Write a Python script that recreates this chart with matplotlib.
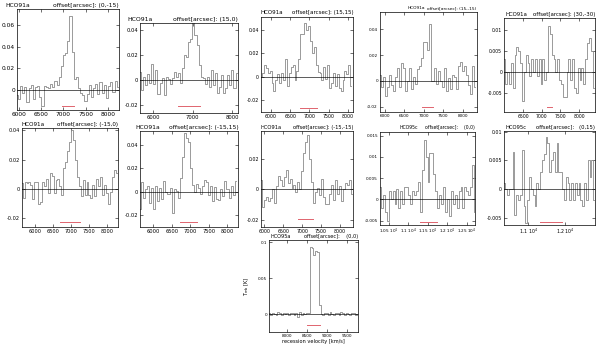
import numpy as np
import matplotlib
matplotlib.use("Agg")
import matplotlib.pyplot as plt
from matplotlib.ticker import FixedLocator, FuncFormatter

# ---------------- data ----------------
lines = ["HCO91a"] * 8 + ["HCO95c", "HCO95c", "HCO95a"]
offsets = ["(0,-15)", "(15,0)", "(15,15)", "(15,-15)", "(30,-30)",
           "(-15,0)", "(-15,15)", "(-15,-15)", "(0,0)", "(0,15)", "(0,0)"]

# first channel velocity and channel width [km/s]
v_start = [5960, 5670, 5740, 5870, 5990, 5628, 5640, 5913, 10267, 10346, 7565]
v_step = [48, 52, 50, 52, 50, 54, 55, 52, 50, 50, 45]

t1 = [-0.005, -0.008, 0.004, -0.003, 0.003, -0.011, 0.002, 0.005, -0.008, 0.003, 0.004, -0.006,
      -0.015, 0.004, 0.003, 0.002, 0.006, 0.003, 0.008, 0.005, 0.012, 0.022, 0.032, 0.034,
      0.045, 0.068, 0.035, 0.01, 0.012, 0.002, -0.003, -0.005, -0.01, -0.004, 0.005, -0.006,
      0.002, 0.006, -0.004, 0.007, -0.003, 0.005, -0.007, 0.004, 0.007, -0.002, 0.008, 0.003]
t2 = [0.007, -0.008, 0.003, -0.004, 0.005, -0.002, 0.013, -0.003, 0.008, -0.011, -0.002, 0.002,
      -0.012, 0.003, 0.001, -0.003, 0.002, 0.007, 0.003, 0.006, -0.002, 0.01, 0.02, 0.019,
      0.031, 0.033, 0.047, 0.036, 0.028, 0.012, 0.003, 0.002, -0.003, 0.003, -0.005, 0.008,
      -0.004, 0.006, -0.01, -0.005, 0.004, -0.01, -0.006, 0.004, -0.004, 0.008, -0.006, 0.006]
t3 = [0.0, 0.003, 0.01, 0.007, 0.003, 0.005, -0.005, -0.012, -0.003, 0.002, -0.005, 0.003,
      -0.003, 0.015, -0.008, 0.003, 0.008, 0.01, -0.003, 0.005, 0.015, 0.036, 0.036, 0.046,
      0.04, 0.043, 0.03, 0.02, 0.025, 0.01, 0.004, 0.003, -0.003, 0.008, -0.002, 0.01,
      -0.01, -0.005, 0.003, -0.008, 0.002, -0.01, -0.012, -0.003, 0.005, 0.002, 0.01, -0.008]
t4 = [0.005, -0.005, 0.003, -0.012, -0.005, 0.005, -0.003, -0.008, 0.003, 0.01, -0.005, 0.014,
      0.01, -0.008, 0.0, 0.01, -0.006, 0.003, -0.002, 0.009, 0.012, 0.018, 0.03, 0.03,
      0.024, 0.044, 0.0, 0.01, -0.002, 0.008, 0.0, -0.005, 0.01, -0.008, 0.002, -0.006,
      0.005, 0.003, -0.006, 0.012, 0.015, 0.008, 0.012, 0.005, -0.003, -0.01, 0.012, -0.005]
t5 = [0.003, -0.003, 0.0, -0.003, 0.002, -0.004, 0.004, 0.006, 0.005, 0.002, -0.007, 0.0,
      0.004, 0.002, -0.001, 0.003, 0.0, 0.003, -0.001, 0.003, -0.003, 0.003, -0.002, 0.0,
      0.011, 0.009, 0.004, 0.003, 0.0, 0.003, -0.002, -0.003, -0.006, -0.006, 0.0, 0.003,
      -0.002, 0.003, -0.004, -0.005, 0.001, -0.002, 0.001, -0.003, 0.003, 0.007, 0.008, 0.005,
      -0.004]
t6 = [0.004, -0.006, 0.005, 0.004, 0.005, 0.003, -0.007, 0.005, 0.005, -0.01, -0.009, 0.005,
      0.002, 0.007, -0.003, 0.011, 0.009, -0.003, 0.006, 0.007, 0.002, -0.004, 0.014, 0.018,
      0.026, 0.032, 0.04, 0.033, 0.02, 0.008, 0.002, -0.005, 0.006, -0.004, 0.005, -0.004,
      -0.006, 0.003, -0.005, 0.007, 0.002, 0.008, -0.004, 0.003, -0.003, -0.01, -0.002, 0.008,
      0.013, 0.011]
t7 = [-0.015, 0.008, -0.005, 0.002, 0.005, -0.01, 0.003, -0.015, 0.005, -0.008, 0.003, -0.006,
      0.009, 0.0, -0.002, 0.003, -0.018, 0.002, 0.001, -0.005, 0.012, 0.03, 0.05, 0.046,
      0.043, 0.02, 0.006, 0.0, 0.007, 0.003, -0.002, 0.005, 0.01, 0.008, -0.003, 0.005,
      -0.008, 0.004, -0.006, -0.007, 0.002, -0.004, 0.009, 0.002, -0.005, 0.005, -0.003, 0.009]
t8 = [0.006, -0.012, -0.007, -0.005, -0.008, -0.006, 0.0, -0.009, 0.002, 0.009, 0.006, 0.002,
      0.008, 0.013, 0.004, 0.007, 0.001, 0.003, -0.002, 0.005, 0.0, 0.012, 0.024, 0.031,
      0.036, 0.02, 0.005, -0.009, -0.002, 0.001, -0.004, 0.007, -0.005, -0.01, -0.01, -0.003,
      0.003, -0.007, 0.006, -0.003, 0.002, -0.008, 0.0, 0.004, 0.003, 0.006, -0.003]
t9 = [0.003, -0.002, 0.001, -0.003, -0.005, 0.002, 0.0, 0.002, -0.001, 0.0025, -0.002, 0.002,
      -0.001, 0.003, 0.003, 0.001, -0.001, 0.002, 0.001, 0.002, 0.004, -0.003, 0.007, 0.014,
      0.01, 0.004, 0.011, 0.011, 0.006, 0.002, -0.002, 0.001, -0.001, 0.003, -0.003, 0.0,
      -0.004, 0.002, -0.001, 0.001, -0.002, 0.002, 0.003, -0.002, 0.003, 0.002, 0.001, 0.003,
      0.008, -0.003]
t10 = [0.001, 0.0, -0.001, 0.0, 0.0, 0.0065, -0.0045, -0.001, -0.002, -0.001, 0.0068, -0.003,
       -0.006, -0.002, 0.002, 0.0, -0.001, -0.003, 0.001, 0.0, 0.003, 0.005, 0.006, 0.009,
       0.008, 0.003, 0.005, 0.0065, 0.003, 0.008, 0.003, 0.003, 0.0, -0.002, 0.002, 0.001,
       -0.002, 0.001, -0.002, 0.001, -0.001, 0.001, -0.002, -0.003, 0.001, -0.002, 0.005, 0.002,
       0.005, -0.002]
t11 = [0.001, -0.002, 0.002, 0.0, -0.001, 0.003, 0.001, -0.002, 0.002, 0.0, 0.001, -0.002,
       0.002, 0.001, -0.001, 0.002, -0.004, 0.003, -0.002, 0.001, 0.0, 0.002, 0.002, 0.094,
       0.092, 0.082, 0.088, 0.086, 0.012, 0.0, -0.002, 0.002, 0.001, -0.002, 0.003, 0.0,
       -0.001, 0.002, 0.001, -0.002, 0.003, 0.001, -0.001, 0.002, 0.0, -0.002, 0.001, 0.002,
       -0.001, 0.0]
tmb = [t1, t2, t3, t4, t5, t6, t7, t8, t9, t10, t11]

# velocity window of the line (red bar)
windows = [(6970, 7245), (6630, 7190), (6755, 7200), (6945, 7245), (7130, 7280),
           (6698, 7257), (6720, 7170), (6900, 7300), (11303, 11735), (11318, 11908),
           (8500, 8833)]

x_ticks = [[6000, 6500, 7000, 7500, 8000], [6000, 7000, 8000],
           [6000, 6500, 7000, 7500, 8000], [6000, 6500, 7000, 7500, 8000],
           [6500, 7000, 7500, 8000], [6000, 6500, 7000, 7500, 8000],
           [6000, 6500, 7000, 7500, 8000], [6000, 6500, 7000, 7500, 8000],
           [10500, 11000, 11500, 12000, 12500], [11000, 12000], [8000, 8500, 9000, 9500]]
y_ticks = [[0, 0.02, 0.04, 0.06], [-0.02, 0, 0.02, 0.04], [-0.02, 0, 0.02, 0.04],
           [-0.02, 0, 0.02, 0.04], [-0.005, 0, 0.005, 0.01], [-0.02, 0, 0.02, 0.04],
           [-0.02, 0, 0.02, 0.04], [-0.02, 0, 0.02], [-0.005, 0, 0.005, 0.01, 0.015],
           [-0.005, 0, 0.005, 0.01], [0, 0.05, 0.1]]

# ---------------- layout ----------------
W, H = 600, 345
# axes boxes in pixels: left, top, right, bottom
boxes = [(17, 9, 119, 110), (140, 23, 238, 112.7), (261, 16.7, 353.3, 112),
         (380, 11.7, 476.7, 111.7), (504.3, 18, 595, 111.7), (21.7, 128, 118.3, 226.7),
         (140, 131, 238.3, 226.7), (261, 131, 353.3, 226.7), (380, 131.7, 475, 225),
         (504.3, 131, 595, 225), (269.3, 240, 358.3, 331.7)]
xlims = [(5965, 8244), (5670, 8150), (5740, 8146), (5870, 8360), (5990, 8430),
         (5628, 8324), (5640, 8297), (5913, 8352), (10267, 12715), (10346, 12817),
         (7565, 9790)]
ylims = [(-0.0184, 0.0747), (-0.026, 0.046), (-0.030, 0.051), (-0.0238, 0.0537),
         (-0.0096, 0.0129), (-0.0256, 0.0414), (-0.030, 0.052), (-0.0247, 0.0385),
         (-0.006, 0.0159), (-0.0063, 0.0101), (-0.0247, 0.1033)]
red_y = [0.04, 0.075, 0.042, 0.044, 0.047, 0.05, 0.052, 0.077, 0.035, 0.035, 0.073]
name_x = [-0.118, -0.133, -0.01, 0.29, 0.01, 0.0, -0.05, -0.01, 0.21, 0.01, 0.01]
title_fs = [4.3, 4.4, 4.0, 3.1, 3.9, 4.1, 4.3, 3.7, 3.3, 3.8, 3.6]
tick_fs = [4.2, 3.8, 3.4, 3.0, 3.3, 3.6, 3.7, 3.4, 3.0, 3.4, 3.0]
gaps = [" "] * 8 + ["    ", "   ", "    "]

spec_color = "#8a8a8a"
red_color = "#e0646e"

fig = plt.figure(figsize=(W / 100, H / 100), dpi=100)

for i in range(11):
    L, T, R, B = boxes[i]
    ax = fig.add_axes([L / W, 1 - B / H, (R - L) / W, (B - T) / H])

    v = v_start[i] + v_step[i] * np.arange(len(tmb[i]))
    ax.step(v, tmb[i], where="mid", color=spec_color, lw=0.6)
    ax.axhline(0, color="black", lw=0.45)
    ax.plot(windows[i], [red_y[i]] * 2, color=red_color, lw=0.7,
            transform=ax.get_xaxis_transform())

    ax.set_xlim(xlims[i])
    ax.set_ylim(ylims[i])
    ax.xaxis.set_major_locator(FixedLocator(x_ticks[i]))
    ax.yaxis.set_major_locator(FixedLocator(y_ticks[i]))
    if lines[i] == "HCO95c":
        ax.xaxis.set_major_formatter(FuncFormatter(lambda x, p: f"{x / 1e4:g} $10^4$"))
    else:
        ax.xaxis.set_major_formatter(FuncFormatter(lambda x, p: f"{x:g}"))
    ax.yaxis.set_major_formatter(FuncFormatter(lambda y, p: f"{y:g}"))

    ax.tick_params(direction="in", length=2, width=0.4, top=True, right=True,
                   labelsize=tick_fs[i], pad=1.5, colors="black")
    for s in ax.spines.values():
        s.set_linewidth(0.5)

    ax.annotate(lines[i], xy=(name_x[i], 1), xycoords="axes fraction",
                xytext=(0, 1), textcoords="offset points",
                ha="left", va="bottom", fontsize=title_fs[i])
    ax.annotate("offset[arcsec]:" + gaps[i] + offsets[i], xy=(1.0, 1),
                xycoords="axes fraction", xytext=(0, 1), textcoords="offset points",
                ha="right", va="bottom", fontsize=title_fs[i])

    if i == 10:
        ax.set_xlabel("recession velocity [km/s]", fontsize=3.6, labelpad=0.8)
        ax.set_ylabel(r"T$_{\rm mb}$ [K]", fontsize=3.6, labelpad=5)

fig.savefig("out.png", dpi=100)
